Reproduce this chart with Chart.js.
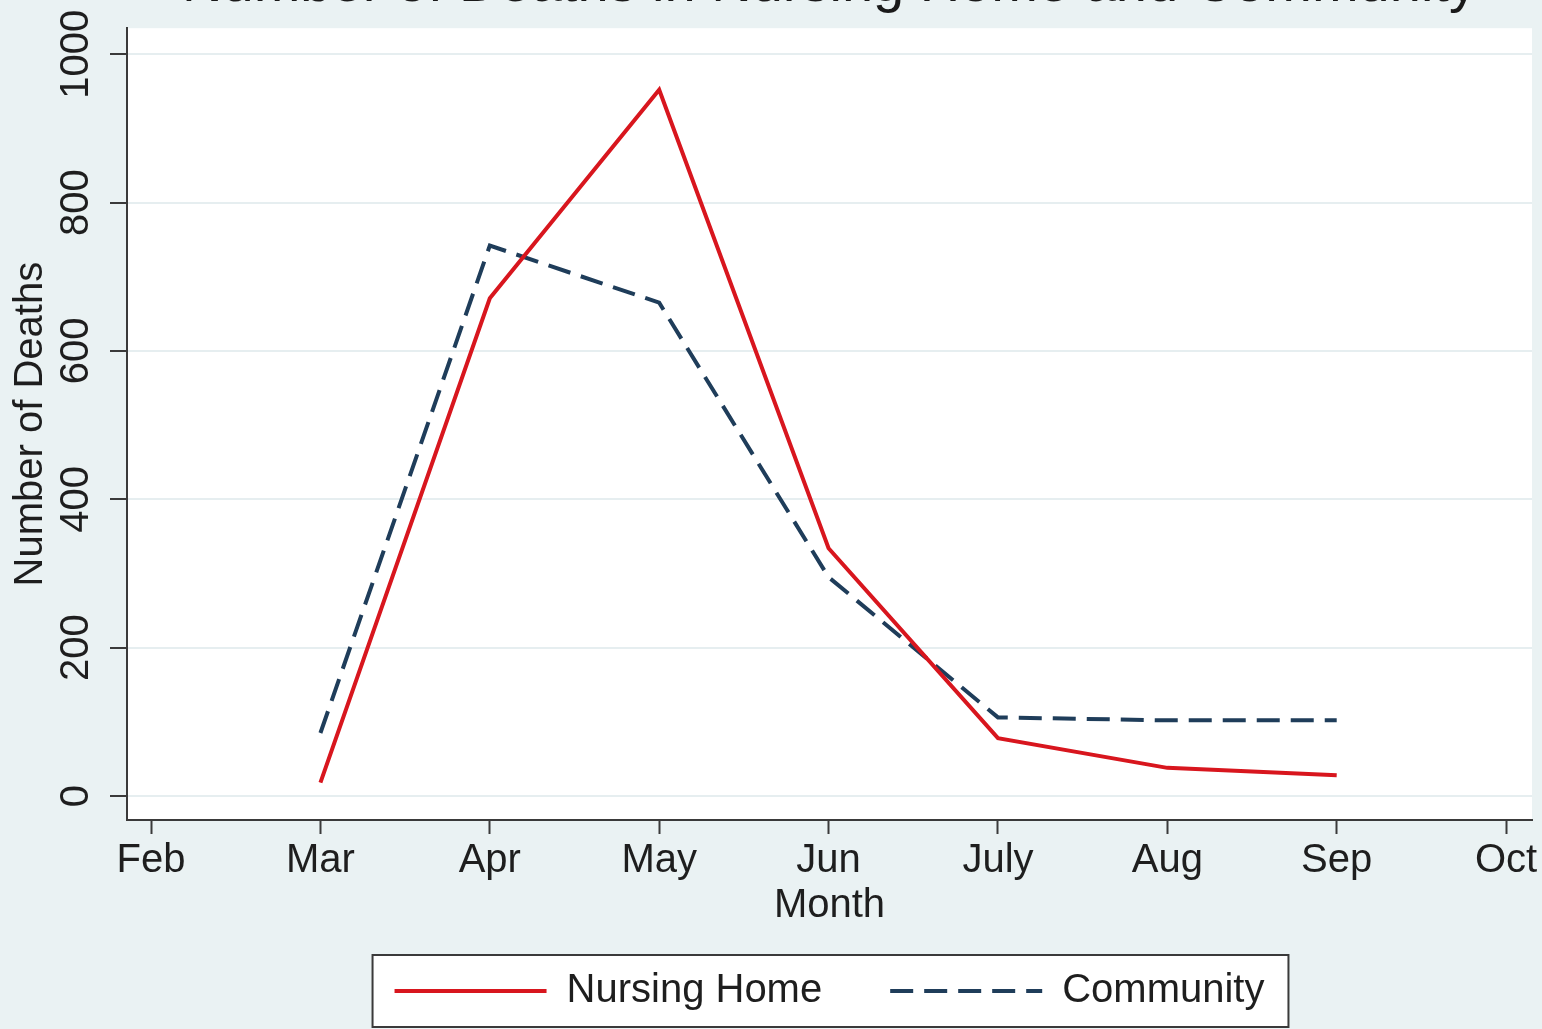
<!DOCTYPE html>
<html>
<head>
<meta charset="utf-8">
<script src="https://cdn.jsdelivr.net/npm/chart.js@4/dist/chart.umd.min.js"></script>
<style>
  html, body { margin: 0; padding: 0; overflow: hidden; background: #eaf2f3; }
  #wrap { position: relative; width: 1542px; height: 1029px; overflow: hidden; }
  /* canvas sits a little higher so the title gets cut like in the picture */
  #chart { position: absolute; left: 0; top: -50px; }
</style>
</head>
<body>
<div id="wrap"><canvas id="chart" width="1542" height="1079"></canvas></div>
<script>
// data
var months = ['Feb', 'Mar', 'Apr', 'May', 'Jun', 'July', 'Aug', 'Sep', 'Oct'];
var nursingHome = [null, 18, 671, 952, 334, 78, 38, 28, null];
var community = [null, 85, 742, 665, 295, 106, 102, 102, null];
var yTicks = [0, 200, 400, 600, 800, 1000];

var FONT = 'Liberation Sans, Arial, sans-serif';
var AXIS = '#3a3a3a';

function toPoints(arr)
{
    var pts = [];
    for (var i = 0; i < arr.length; i++) {
        if (arr[i] !== null) pts.push({x: i, y: arr[i]});
    }
    return pts;
}

// background, white plot area, white legend box with border
var bgPlugin = {
    id: 'bgPlugin',
    beforeDraw: function(chart) {
        var ctx = chart.ctx;
        var a = chart.chartArea;
        ctx.save();
        ctx.fillStyle = '#eaf2f3';
        ctx.fillRect(0, 0, chart.width, chart.height);
        ctx.fillStyle = '#ffffff';
        ctx.fillRect(a.left, a.top, a.right - a.left, a.bottom - a.top);

        var lg = chart.legend;
        if (lg && lg.legendHitBoxes && lg.legendHitBoxes.length) {
            var hb = lg.legendHitBoxes;
            var last = hb[hb.length - 1];
            var x0 = hb[0].left - 22;
            var x1 = last.left + last.width + 24;
            var cy = hb[0].top + hb[0].height / 2;
            ctx.fillStyle = '#ffffff';
            ctx.fillRect(x0, cy - 36, x1 - x0, 72);
            ctx.strokeStyle = AXIS;
            ctx.lineWidth = 2;
            ctx.strokeRect(x0, cy - 36, x1 - x0, 72);
        }
        ctx.restore();
    }
};

new Chart(document.getElementById('chart'), {
    type: 'line',
    data: {
        datasets: [
            {
                label: 'Nursing Home',
                data: toPoints(nursingHome),
                borderColor: '#d8161e',
                backgroundColor: '#d8161e',
                borderWidth: 4,
                pointRadius: 0,
                tension: 0
            },
            {
                label: 'Community',
                data: toPoints(community),
                borderColor: '#1f3d5a',
                backgroundColor: '#1f3d5a',
                borderWidth: 4,
                borderDash: [23, 11],
                pointRadius: 0,
                tension: 0
            }
        ]
    },
    options: {
        responsive: false,
        animation: false,
        layout: { padding: { left: 0, right: 10, top: 0, bottom: 8 } },
        scales: {
            x: {
                type: 'linear',
                min: -0.142,
                max: 8.153,
                afterBuildTicks: function(scale) {
                    scale.ticks = months.map(function(m, i) { return {value: i}; });
                },
                afterFit: function(scale) {
                    scale.height = 83;
                    scale.paddingLeft = 0;
                    scale.paddingRight = 0;
                },
                ticks: {
                    autoSkip: false,
                    maxRotation: 0,
                    padding: 3,
                    color: '#1e1e1e',
                    font: { family: FONT, size: 40 },
                    callback: function(v) { return months[v]; }
                },
                grid: { drawOnChartArea: false, tickLength: 14, tickColor: AXIS, tickWidth: 2 },
                border: { color: AXIS, width: 2 },
                title: {
                    display: true,
                    text: 'Month',
                    color: '#1e1e1e',
                    font: { family: FONT, size: 40 },
                    padding: { top: 0, bottom: -27 }
                }
            },
            y: {
                min: -32.3,
                max: 1035,
                afterBuildTicks: function(scale) {
                    scale.ticks = yTicks.map(function(v) { return {value: v}; });
                },
                afterFit: function(scale) {
                    scale.width = 127;
                    scale.paddingTop = 0;
                    scale.paddingBottom = 0;
                },
                ticks: {
                    minRotation: 90,
                    maxRotation: 90,
                    crossAlign: 'center',
                    padding: -11.5,
                    color: '#1e1e1e',
                    font: { family: FONT, size: 40 },
                    callback: function(v) { return String(v); }
                },
                grid: { color: '#e6eef0', lineWidth: 2, tickLength: 17, tickColor: AXIS, tickWidth: 2 },
                border: { color: AXIS, width: 2 },
                title: {
                    display: true,
                    text: 'Number of Deaths',
                    color: '#1e1e1e',
                    font: { family: FONT, size: 40 },
                    padding: { top: 7, bottom: 0 }
                }
            }
        },
        plugins: {
            title: {
                display: true,
                fullSize: false,
                text: 'Number of Deaths in Nursing Home and Community',
                color: '#1a1a1a',
                font: { family: FONT, size: 56, weight: 'normal' },
                padding: { top: 2, bottom: 9 }
            },
            legend: {
                position: 'bottom',
                fullSize: false,
                labels: {
                    usePointStyle: true,
                    pointStyle: 'line',
                    pointStyleWidth: 152,
                    padding: 68,
                    color: '#1e1e1e',
                    font: { family: FONT, size: 40 },
                    // the point style loses the dash, put it back from the dataset
                    generateLabels: function(chart) {
                        var items = Chart.defaults.plugins.legend.labels.generateLabels(chart);
                        items.forEach(function(it) {
                            var ds = chart.data.datasets[it.datasetIndex];
                            it.lineDash = ds.borderDash || [];
                            it.lineWidth = ds.borderWidth;
                            it.strokeStyle = ds.borderColor;
                        });
                        return items;
                    }
                }
            },
            tooltip: { enabled: false }
        }
    },
    plugins: [bgPlugin]
});
</script>
</body>
</html>
